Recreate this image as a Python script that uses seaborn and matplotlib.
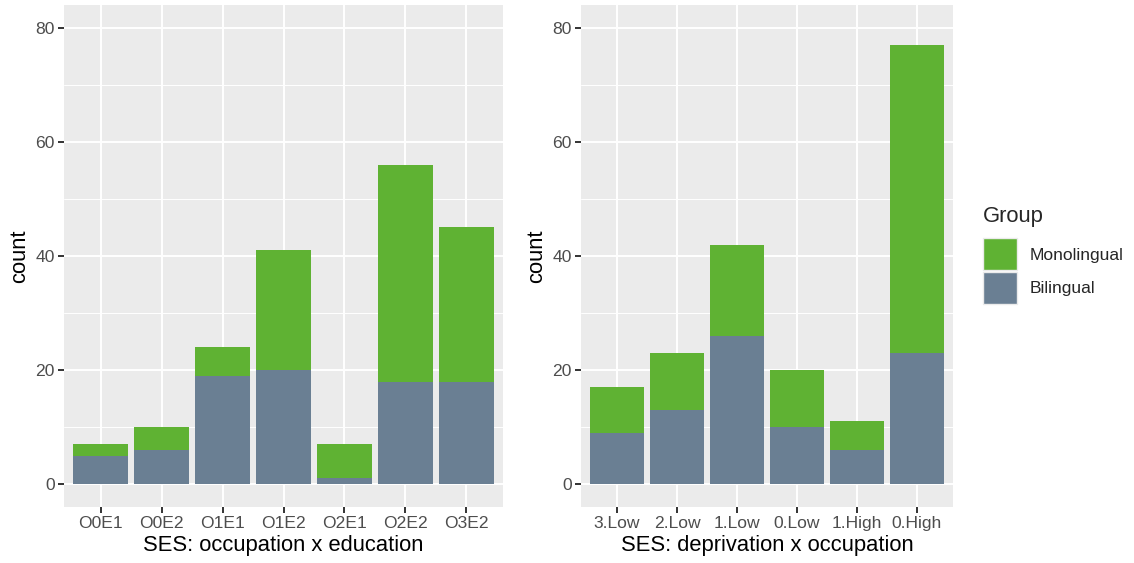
import numpy as np
import pandas as pd
import matplotlib
matplotlib.use("Agg")
import matplotlib.pyplot as plt
import matplotlib.patches as mpatches
import seaborn as sns

# Left panel: SES occupation x education
edu_cats = ["O0E1", "O0E2", "O1E1", "O1E2", "O2E1", "O2E2", "O3E2"]
edu_bilingual = [5, 6, 19, 20, 1, 18, 18]
edu_monolingual = [2, 4, 5, 21, 6, 38, 27]

# Right panel: SES deprivation x occupation
dep_cats = ["3.Low", "2.Low", "1.Low", "0.Low", "1.High", "0.High"]
dep_bilingual = [9, 13, 26, 10, 6, 23]
dep_monolingual = [8, 10, 16, 10, 5, 54]

GREEN = "#5FB233"
SLATE = "#6A7F93"
BG = "#EBEBEB"

sns.set_theme(style="darkgrid")
plt.rcParams["font.family"] = ["Liberation Sans", "DejaVu Sans"]

W, H = 1134, 563
fig = plt.figure(figsize=(W / 100, H / 100), dpi=100)

TICK_FS = 12.6
TITLE_FS = 15.8


def px_axes(x0, x1, y0, y1):
    return fig.add_axes([x0 / W, (H - y1) / H, (x1 - x0) / W, (y1 - y0) / H])


def draw_panel(ax, cats, bili, mono, xlabel):
    df = pd.DataFrame({"cat": cats, "Bilingual": bili, "Monolingual": mono})
    df["total"] = df["Bilingual"] + df["Monolingual"]
    sns.barplot(data=df, x="cat", y="total", order=cats, color=GREEN,
                saturation=1, width=0.9, linewidth=0, ax=ax, zorder=3)
    sns.barplot(data=df, x="cat", y="Bilingual", order=cats, color=SLATE,
                saturation=1, width=0.9, linewidth=0, ax=ax, zorder=4)
    ax.set_facecolor(BG)
    ax.set_xlim(-0.6, len(cats) - 0.4)
    ax.set_ylim(-4, 84)
    ax.set_yticks([0, 20, 40, 60, 80])
    ax.set_yticks([10, 30, 50, 70], minor=True)
    ax.grid(True, which="major", color="white", linewidth=1.4, zorder=0)
    ax.grid(True, which="minor", axis="y", color="white", linewidth=0.7, zorder=0)
    ax.set_axisbelow(True)
    for s in ax.spines.values():
        s.set_visible(False)
    ax.tick_params(axis="both", which="major", bottom=True, left=True,
                   length=4, width=1.4, color="#333333", labelcolor="#4D4D4D",
                   labelsize=TICK_FS, pad=2.5)
    ax.tick_params(axis="both", which="minor", length=0)
    ax.set_xlabel(xlabel, fontsize=TITLE_FS, color="black", labelpad=3)
    ax.set_ylabel("count", fontsize=TITLE_FS, color="black", labelpad=4)


ax1 = px_axes(64, 503, 5, 507)
draw_panel(ax1, edu_cats, edu_bilingual, edu_monolingual, "SES: occupation x education")

ax2 = px_axes(581, 953, 5, 507)
draw_panel(ax2, dep_cats, dep_bilingual, dep_monolingual, "SES: deprivation x occupation")

handles = [mpatches.Patch(facecolor=GREEN, edgecolor=BG, linewidth=1, label="Monolingual"),
           mpatches.Patch(facecolor=SLATE, edgecolor=BG, linewidth=1, label="Bilingual")]
leg = fig.legend(handles=handles, title="Group", loc="upper left",
                 bbox_to_anchor=(983 / W, 1 - 206 / H), frameon=False,
                 fontsize=TICK_FS, title_fontsize=TITLE_FS, handlelength=1.95,
                 handleheight=2.45, handletextpad=0.7, labelspacing=0.08,
                 borderaxespad=0, borderpad=0)
leg._legend_box.align = "left"
leg._legend_box.sep = 8

fig.savefig("out.png", dpi=100)
